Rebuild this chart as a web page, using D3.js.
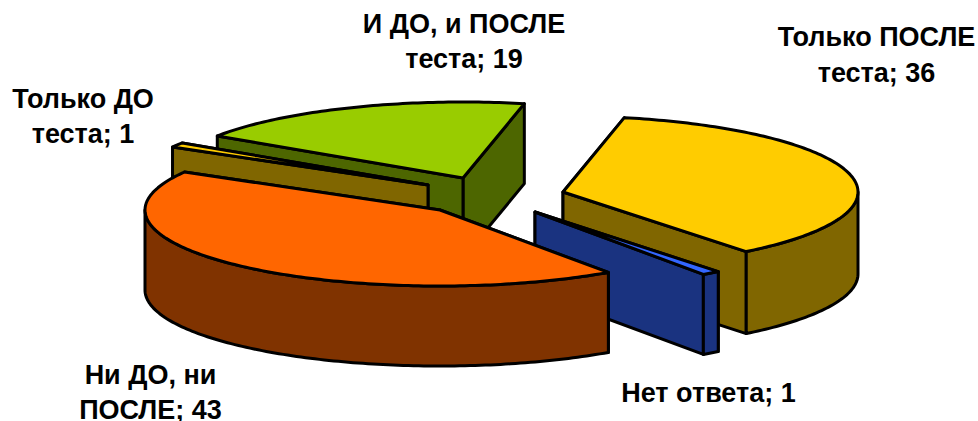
<!DOCTYPE html>
<html><head><meta charset="utf-8">
<script src="https://cdn.jsdelivr.net/npm/d3@7"></script>
<style>html,body{margin:0;background:#fff}svg{display:block}</style></head>
<body><svg id="c" width="978" height="421"></svg>
<script>
const categories = ["Только ПОСЛЕ теста","Нет ответа","Ни ДО, ни ПОСЛЕ","Только ДО теста","И ДО, и ПОСЛЕ теста"];
const values = [36,1,43,1,19];
const topColors = ["#FFCC00","#3366FF","#FF6600","#FFCC00","#99CC00"];
const wallColors = ["#806600","#1A3380","#803300","#806600","#4D6600"];
// exploded slice apex for each category, in pixels
const apexX = [563,535,440,428,463];
const apexY = [192,212,210,185,178];
const depths = [82,80,80,80,80];
const labelLines = [["Только ПОСЛЕ","теста; 36"],["Нет ответа; 1"],["Ни ДО, ни","ПОСЛЕ; 43"],["Только ДО","теста; 1"],["И ДО, и ПОСЛЕ","теста; 19"]];
const labelX = [876.5,708.5,150.5,83,464];
const labelY = [[46,82],[402],[384,419],[108,143],[33,68]];

const RX=295, RY=76, START=12;
const svg=d3.select("#c");
const rad=d=>d*Math.PI/180;
const pie=d3.pie().sort(null).startAngle(rad(START)).endAngle(rad(START+360));
const arcs=pie(values);
const sx=d3.scaleLinear().domain([-1,1]).range([-RX,RX]);
const sy=d3.scaleLinear().domain([-1,1]).range([-RY,RY]);
const pt=(i,a,z=0)=>[apexX[i]+sx(Math.sin(a)),apexY[i]+sy(-Math.cos(a))+z];
const line=d3.line();
const sample=(a0,a1)=>{const n=Math.max(2,Math.ceil((a1-a0)/rad(1)));return d3.range(n+1).map(k=>a0+(a1-a0)*k/n);};
function poly(points,fill){
  svg.append("path").attr("d",line(points)+"Z").attr("fill",fill)
    .attr("stroke","#000").attr("stroke-width",3).attr("stroke-linejoin","round");
}
// paint from the back to the front
[4,3,0,1,2].forEach(i=>{
  const d=arcs[i],a0=d.startAngle,a1=d.endAngle,D=depths[i],c=[apexX[i],apexY[i]],cb=[c[0],c[1]+D];
  const wall=a=>[c,pt(i,a),pt(i,a,D),cb];
  if(pt(i,a0)[1]<pt(i,a1)[1]){poly(wall(a0),wallColors[i]);poly(wall(a1),wallColors[i]);}
  else{poly(wall(a1),wallColors[i]);poly(wall(a0),wallColors[i]);}
  const lo=Math.max(a0,rad(90)),hi=Math.min(a1,rad(270));
  if(lo<hi){
    const s=sample(lo,hi);
    poly(s.map(a=>pt(i,a)).concat(s.slice().reverse().map(a=>pt(i,a,D))),wallColors[i]);
  }
  poly([c].concat(sample(a0,a1).map(a=>pt(i,a))),topColors[i]);
});
labelLines.forEach((ls,i)=>ls.forEach((t,k)=>{
  svg.append("text").attr("x",labelX[i]).attr("y",labelY[i][k]).attr("text-anchor","middle")
    .attr("font-family","'Liberation Sans',Arial,sans-serif").attr("font-weight","bold").attr("font-size",27).attr("fill","#000").text(t);
}));
</script></body></html>
